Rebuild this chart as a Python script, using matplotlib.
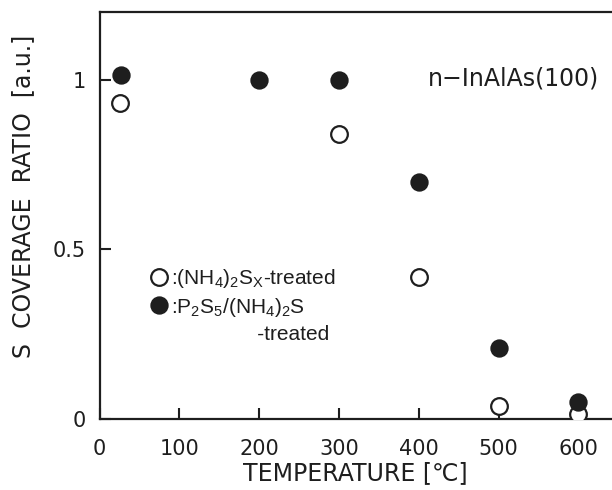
import numpy as np
import matplotlib
matplotlib.use("Agg")
from matplotlib import pyplot as plt
from matplotlib.lines import Line2D

# values
temp_p2s5 = [27, 200, 300, 400, 500, 600]
cov_p2s5 = [1.013, 0.998, 1.0, 0.70, 0.21, 0.05]
temp_nh4 = [26, 300, 400, 500, 600]
cov_nh4 = [0.93, 0.84, 0.42, 0.04, 0.016]

xticks = [0, 100, 200, 300, 400, 500, 600]
yticks = [0, 0.5, 1]
ytick_labels = ['0', '0.5', '1']

ink = '#1e1e1e'
plt.rcParams['font.family'] = ['DejaVu Sans']
plt.rcParams['mathtext.default'] = 'regular'

fig = plt.figure(figsize=(6.12, 4.9), dpi=100)
ax = fig.add_axes([0.1626, 0.1443, 0.8374, 0.8318])

ax.plot(temp_nh4, cov_nh4, 'o', ms=12, mfc='white', mec=ink, mew=1.6,
        linestyle='none', label=r':(NH$_4$)$_2$S$_X$-treated', zorder=3)
ax.plot(temp_p2s5, cov_p2s5, 'o', ms=12, mfc=ink, mec=ink, mew=1.2,
        linestyle='none', label=':P$_2$S$_5$/(NH$_4$)$_2$S', zorder=4)

ax.set_xlim(0, 642)
ax.set_ylim(0, 1.2)
ax.set_xticks(xticks)
ax.set_yticks(yticks)
ax.set_yticklabels(ytick_labels)
ax.tick_params(direction='in', length=8, width=1.5, colors=ink, labelsize=15)
ax.tick_params(axis='x', pad=14)
ax.tick_params(axis='y', pad=10)
for s in ['left', 'bottom', 'top']:
    ax.spines[s].set_linewidth(1.6)
    ax.spines[s].set_color(ink)
ax.spines['right'].set_visible(False)

ax.set_xlabel('TEMPERATURE [\u2103]', fontsize=17, color=ink, labelpad=2)
ax.set_ylabel('S  COVERAGE  RATIO  [a.u.]', fontsize=17, color=ink)
ax.yaxis.set_label_coords(-0.125, 0.548)

ax.text(0.975, 0.835, 'n\u2212InAlAs(100)', transform=ax.transAxes, fontsize=17,
        color=ink, ha='right', va='center')

handles, labels = ax.get_legend_handles_labels()
handles.append(Line2D([], [], linestyle='none'))
labels.append(' ' * 15 + '-treated')
leg = ax.legend(handles, labels, loc='upper left', bbox_to_anchor=(0.067, 0.42),
                frameon=False, handlelength=0.6, handletextpad=0.3, labelspacing=0.28,
                prop={'family': ['Liberation Sans', 'DejaVu Sans'], 'size': 15})
for t in leg.get_texts():
    t.set_color(ink)

fig.savefig('out.png', dpi=100)
